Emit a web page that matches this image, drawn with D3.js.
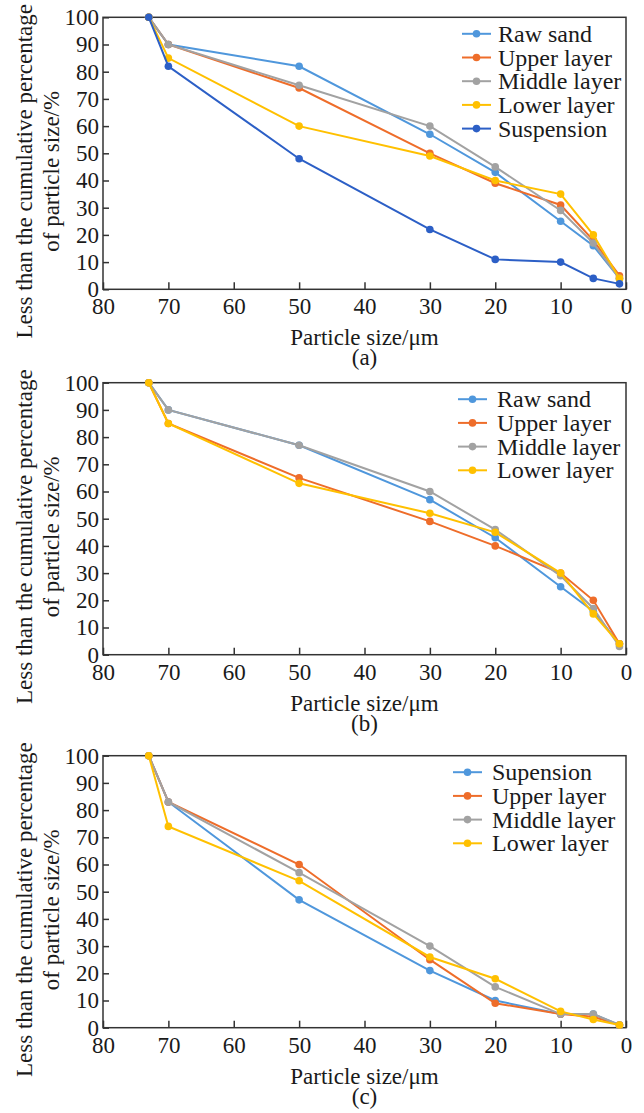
<!DOCTYPE html>
<html>
<head>
<meta charset="utf-8">
<script src="https://cdn.jsdelivr.net/npm/d3@7"></script>
<style>
  body { margin: 0; background: #fff; }
  text { font-family: "Liberation Serif", "Times New Roman", serif; fill: #1a1a1a; }
</style>
</head>
<body>
<script>
// particle sizes (um) shared by all panels
var sizes = [73, 70, 50, 30, 20, 10, 5, 1];
var xTicks = [80, 70, 60, 50, 40, 30, 20, 10, 0];
var yTicks = [0, 10, 20, 30, 40, 50, 60, 70, 80, 90, 100];

// panel (a)
var aNames = ["Raw sand", "Upper layer", "Middle layer", "Lower layer", "Suspension"];
var aRaw = [100, 90, 82, 57, 43, 25, 16, 4];
var aUpper = [100, 90, 74, 50, 39, 31, 18, 5];
var aMiddle = [100, 90, 75, 60, 45, 29, 17, 4];
var aLower = [100, 85, 60, 49, 40, 35, 20, 4];
var aSusp = [100, 82, 48, 22, 11, 10, 4, 2];

// panel (b)
var bNames = ["Raw sand", "Upper layer", "Middle layer", "Lower layer"];
var bRaw = [100, 90, 77, 57, 43, 25, 16, 4];
var bUpper = [100, 85, 65, 49, 40, 30, 20, 4];
var bMiddle = [100, 90, 77, 60, 46, 29, 17, 3];
var bLower = [100, 85, 63, 52, 45, 30, 15, 4];

// panel (c)
var cNames = ["Supension", "Upper layer", "Middle layer", "Lower layer"];
var cSusp = [100, 83, 47, 21, 10, 5, 5, 1];
var cUpper = [100, 83, 60, 25, 9, 5, 4, 1];
var cMiddle = [100, 83, 57, 30, 15, 5, 5, 1];
var cLower = [100, 74, 54, 26, 18, 6, 3, 1];

var width = 644;
var height = 1113;
var plotLeft = 103;
var plotRight = 626;
var plotH = 272;

var svg = d3.select("body")
  .append("svg")
    .attr("width", width)
    .attr("height", height);

var x = d3.scaleLinear()
    .domain([80, 0])
    .range([plotLeft, plotRight]);

var panels = [
  {top: 17.3, label: "(a)", names: aNames, series: [aRaw, aUpper, aMiddle, aLower, aSusp],
   colors: ["#4f97dc", "#ee6d2a", "#a2a2a2", "#ffc000", "#2c5fc6"], legendX: 462, textX: 498},
  {top: 382.7, label: "(b)", names: bNames, series: [bRaw, bUpper, bMiddle, bLower],
   colors: ["#4f97dc", "#ee6d2a", "#a2a2a2", "#ffc000"], legendX: 458, textX: 497},
  {top: 755.7, label: "(c)", names: cNames, series: [cSusp, cUpper, cMiddle, cLower],
   colors: ["#4f97dc", "#ee6d2a", "#a2a2a2", "#ffc000"], legendX: 453, textX: 492}
];

panels.forEach(function(p) {
  var bottom = p.top + plotH;
  var y = d3.scaleLinear()
      .domain([0, 100])
      .range([bottom, p.top]);

  var g = svg.append("g");

  //Axes
  g.append("g")
    .attr("transform", "translate(0," + bottom + ")")
    .call(d3.axisBottom(x).tickValues(xTicks).tickSizeInner(-7).tickSizeOuter(0).tickPadding(8.5))
    .call(function(a) {
      a.select(".domain").remove();
      a.selectAll("line").attr("stroke", "#333").attr("stroke-width", 1.5);
      a.selectAll("text").style("font-size", "23px").attr("font-family", null);
    });

  g.append("g")
    .attr("transform", "translate(" + plotLeft + ",0)")
    .call(d3.axisLeft(y).tickValues(yTicks).tickSizeInner(-6).tickSizeOuter(0).tickPadding(4))
    .call(function(a) {
      a.select(".domain").remove();
      a.selectAll("line").attr("stroke", "#333").attr("stroke-width", 1.5);
      a.selectAll("text").style("font-size", "23px").attr("font-family", null);
    });

  //Frame
  g.append("rect")
    .attr("x", plotLeft)
    .attr("y", p.top)
    .attr("width", plotRight - plotLeft)
    .attr("height", plotH)
    .attr("fill", "none")
    .attr("stroke", "#333")
    .attr("stroke-width", 1.5);

  //Labels
  var midX = (plotLeft + plotRight) / 2;
  g.append("text")
    .attr("x", midX)
    .attr("y", bottom + 56)
    .attr("text-anchor", "middle")
    .style("font-size", "23px")
    .text("Particle size/\u03bcm");

  g.append("text")
    .attr("x", midX)
    .attr("y", bottom + 76)
    .attr("text-anchor", "middle")
    .style("font-size", "23px")
    .text(p.label);

  var yl = g.append("text")
    .attr("transform", "translate(31.5," + (p.top + plotH / 2 + 18) + ") rotate(-90)")
    .attr("text-anchor", "middle")
    .style("font-size", "23px");
  yl.append("tspan").attr("x", 0).attr("y", 0).text("Less than the cumulative percentage");
  yl.append("tspan").attr("x", 0).attr("y", 27).text("of particle size/%");

  //Lines
  var line = d3.line()
    .x(function(d, i) { return x(sizes[i]); })
    .y(function(d) { return y(d); });

  p.series.forEach(function(s, k) {
    g.append("path")
      .datum(s)
      .attr("d", line)
      .attr("fill", "none")
      .attr("stroke", p.colors[k])
      .attr("stroke-width", 2);

    g.selectAll(".pt" + k)
      .data(s)
      .enter()
      .append("circle")
        .attr("cx", function(d, i) { return x(sizes[i]); })
        .attr("cy", function(d) { return y(d); })
        .attr("r", 3.8)
        .attr("fill", p.colors[k]);
  });

  //Legend
  var leg = g.append("g");
  p.names.forEach(function(n, k) {
    var ly = p.top + 16.5 + k * 23.7;
    leg.append("line")
      .attr("x1", p.legendX)
      .attr("x2", p.legendX + 29)
      .attr("y1", ly)
      .attr("y2", ly)
      .attr("stroke", p.colors[k])
      .attr("stroke-width", 2);
    leg.append("circle")
      .attr("cx", p.legendX + 14.5)
      .attr("cy", ly)
      .attr("r", 3.8)
      .attr("fill", p.colors[k]);
    leg.append("text")
      .attr("x", p.textX)
      .attr("y", ly + 8)
      .style("font-size", "24px")
      .text(n);
  });
});
</script>
</body>
</html>
